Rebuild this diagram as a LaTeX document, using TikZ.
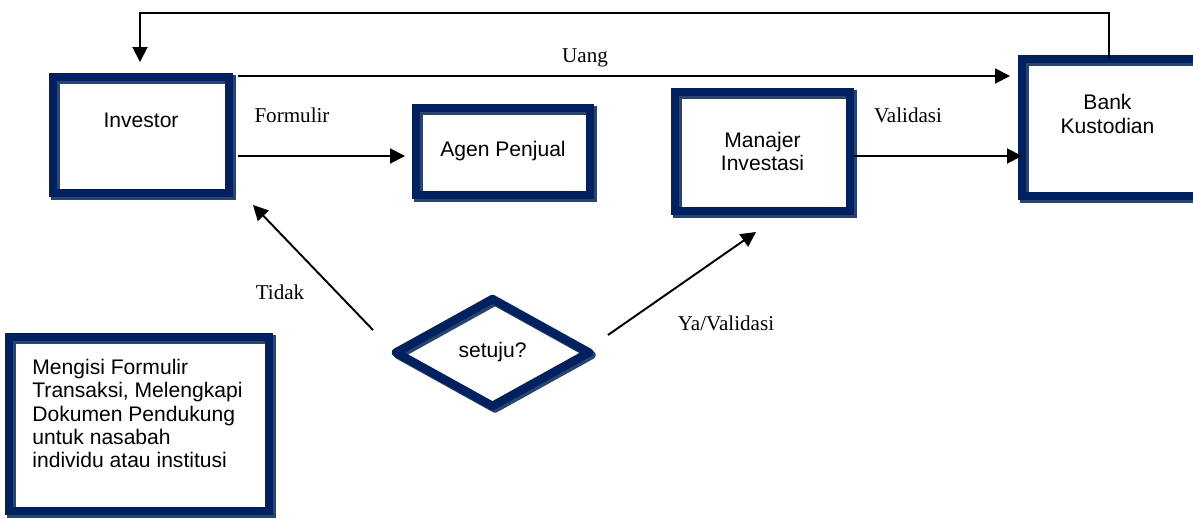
\documentclass[tikz,border=0pt]{standalone}
\usepackage{fontspec}
\setmainfont{Liberation Serif}
\setsansfont{Liberation Sans}
\usetikzlibrary{positioning}
\usetikzlibrary{shapes.geometric}
\usetikzlibrary{arrows.meta}
\usetikzlibrary{calc}
\definecolor{navy}{RGB}{0,33,96}
\definecolor{shadowblue}{RGB}{44,68,104}
\tikzset{
    box/.style = {rectangle, draw=navy, line width=0.17cm, inner sep=0pt, outer sep=0pt,
        preaction={draw=shadowblue, transform canvas={shift={(0.05cm,-0.05cm)}}},
        font=\sffamily\fontsize{12}{13.2}\selectfont, align=center},
    dia/.style = {diamond, aspect=1.8, draw=navy, line width=0.17cm, line join=round,
        inner sep=0pt, outer sep=0pt,
        preaction={draw=shadowblue, transform canvas={shift={(0.05cm,-0.05cm)}}},
        font=\sffamily\fontsize{12}{13.2}\selectfont},
    txt/.style = {font=\sffamily\fontsize{12}{13.2}\selectfont, inner sep=0pt},
    lbl/.style = {font=\fontsize{12}{14}\selectfont, inner sep=0pt},
    conn/.style = {line width=1.1pt, -{Triangle[length=0.3cm,width=0.3cm]}},
}

\begin{document}
\begin{tikzpicture}[x=0.02cm, y=-0.02cm]
    \useasboundingbox (0,0) rectangle (1193,518);
    \clip (0,0) rectangle (1193,518);
    % --- Investor
    \node[box, minimum width=3.52cm, minimum height=2.32cm] (inv) at (141,135) {};
    \node[txt] (invtxt) at ([shift={(0,-14.5)}]inv.center) {Investor};
    % --- Agen Penjual
    \node[box, minimum width=3.48cm, minimum height=1.74cm] (agen) at (503,151.5) {Agen Penjual};
    % --- Manajer Investasi
    \node[box, minimum width=3.5cm, minimum height=2.38cm] (mi) at (762.5,151.5) {Manajer\\Investasi};
    % --- Bank Kustodian (runs past the right edge)
    \node[box, anchor=west, minimum width=4.5cm, minimum height=2.74cm] (bank) at (1022,127.5) {};
    \node[txt, align=center] (banktxt) at ([shift={(85.5,-13.5)}]bank.west) {Bank\\Kustodian};
    % --- Keterangan
    \node[box, minimum width=5.2cm, minimum height=3.48cm] (ket) at (139,424) {};
    \node[txt, align=left, anchor=north west] (kettxt) at ([shift={(23,22)}]ket.north west)
        {Mengisi Formulir\\Transaksi, Melengkapi\\Dokumen Pendukung\\untuk nasabah\\individu atau institusi};
    % --- Decision
    \node[dia, minimum width=3.86cm, minimum height=2.14cm] (setuju) at (492.5,352.5) {setuju?};
    % --- Uang
    \coordinate (u1) at ([shift={(9,-1)}]inv.north east);
    \draw[conn] (u1) -- ($(u1 -| bank.west)+(-12,0)$);
    % --- Formulir
    \coordinate (f1) at ([shift={(9,21)}]inv.east);
    \draw[conn] (f1) -- ($(f1 -| agen.west)+(-11,0)$);
    % --- Validasi
    \coordinate (v1) at ([shift={(4,4.5)}]mi.east);
    \draw[conn] (v1) -- (v1 -| bank.west);
    % --- Back to Investor
    \coordinate (b1) at ([shift={(87,0)}]bank.north west);
    \draw[conn] (b1) -- ++(0,-46) -| ($(inv.north)+(-1,-15)$);
    % --- Tidak
    \draw[conn] ([shift={(-23,-22.5)}]setuju.west) -- ([shift={(24,12)}]inv.south east);
    % --- Ya
    \draw[conn] ([shift={(19,-17.5)}]setuju.east) -- ([shift={(-6.5,21)}]mi.south);
    % --- Labels
    \node[lbl] (uang) at (585,58) {Uang};
    \node[lbl] (formulir) at (292,115) {Formulir};
    \node[lbl] (validasi) at (908,115) {Validasi};
    \node[lbl] (tidak) at (280,292) {Tidak};
    \node[lbl] (ya) at (726,323) {Ya/Validasi};
\end{tikzpicture}
\end{document}
